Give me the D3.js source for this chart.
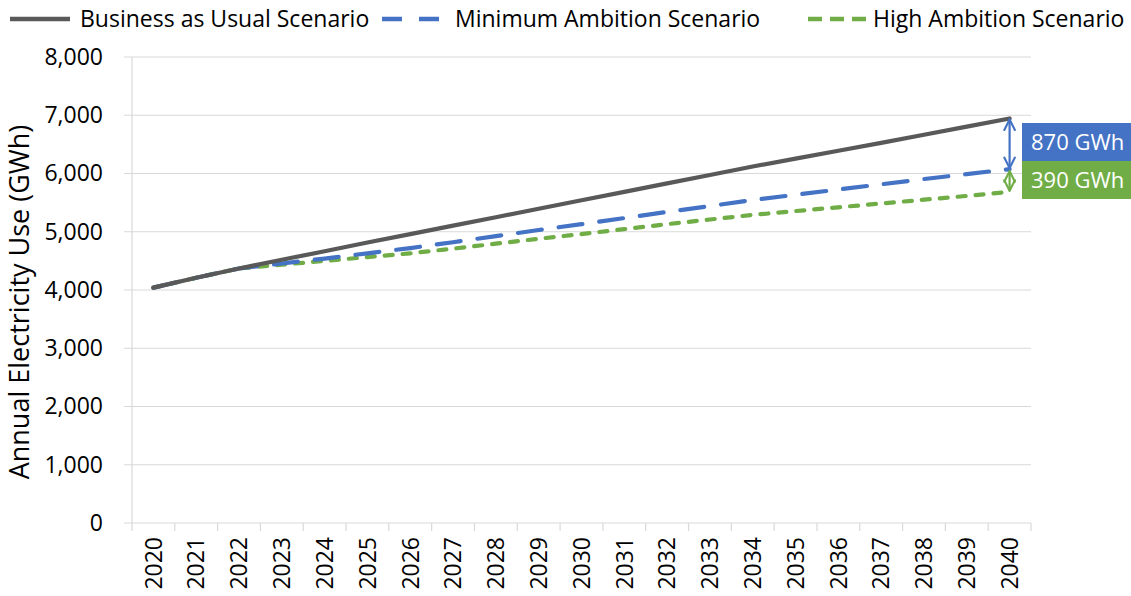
<!DOCTYPE html>
<html>
<head>
<meta charset="utf-8">
<script src="https://cdn.jsdelivr.net/npm/d3@7"></script>
<style>
  html, body { margin: 0; padding: 0; background: #fff; }
  svg { display: block; font-family: "Open Sans", "Noto Sans", sans-serif; }
</style>
</head>
<body>
<svg id="chart" width="1131" height="596"></svg>
<script>
const years = d3.range(2020, 2041).map(String);
const bauValues = [4040, 4210, 4370, 4520, 4665, 4815, 4960, 5105, 5250, 5395, 5540, 5685, 5830, 5975, 6120, 6255, 6390, 6525, 6665, 6805, 6945];
const minValues = [4040, 4210, 4370, 4455, 4540, 4630, 4720, 4820, 4925, 5030, 5130, 5235, 5340, 5440, 5545, 5635, 5725, 5815, 5905, 5990, 6075];
const highValues = [4040, 4210, 4370, 4435, 4500, 4565, 4630, 4710, 4795, 4880, 4960, 5045, 5130, 5210, 5290, 5355, 5420, 5485, 5550, 5615, 5685];
const yTicks = [0, 1000, 2000, 3000, 4000, 5000, 6000, 7000, 8000];
const seriesNames = ["Business as Usual Scenario", "Minimum Ambition Scenario", "High Ambition Scenario"];
const yTitle = "Annual Electricity Use (GWh)";

const svg = d3.select("#chart");
const L = 132, R = 1031, T = 57, B = 523;
const x = d3.scaleBand().domain(years).range([L, R]);
const y = d3.scaleLinear().domain([0, 8000]).range([B, T]);
const cx = d => x(d) + x.bandwidth() / 2;
const grid = "#D9D9D9";
const FS = 23;

// gridlines
svg.append("g").selectAll("line").data(yTicks).join("line")
  .attr("x1", L - 8).attr("x2", R)
  .attr("y1", d => y(d)).attr("y2", d => y(d))
  .attr("stroke", grid).attr("stroke-width", 1.2);

// y axis line
svg.append("line").attr("x1", L).attr("x2", L).attr("y1", T).attr("y2", B)
  .attr("stroke", grid).attr("stroke-width", 1.2);

// y axis labels
const yAxis = d3.axisLeft(y).tickValues(yTicks).tickSize(0).tickPadding(0).tickFormat(d3.format(","));
const yg = svg.append("g").attr("transform", `translate(${L - 29},0)`).call(yAxis);
yg.select(".domain").remove();
yg.selectAll("text").attr("font-size", FS).attr("fill", "#000").attr("font-family", "'Open Sans', sans-serif");

// x axis ticks at band boundaries
const bounds = years.map(d => x(d)).concat([R]);
svg.append("g").selectAll("line").data(bounds).join("line")
  .attr("x1", d => d).attr("x2", d => d).attr("y1", B).attr("y2", B + 8)
  .attr("stroke", grid).attr("stroke-width", 1.2);

// x labels
svg.append("g").selectAll("text").data(years).join("text")
  .attr("transform", d => `translate(${cx(d)},${B + 14}) rotate(-90)`)
  .attr("text-anchor", "end").attr("dy", "0.36em")
  .attr("font-size", FS).attr("fill", "#000")
  .text(d => d);

// y title
svg.append("text")
  .attr("transform", `translate(19,302) rotate(-90)`)
  .attr("text-anchor", "middle").attr("dy", "0.36em")
  .attr("font-size", 27).attr("fill", "#000")
  .text(yTitle);

// lines
const line = d3.line().x((d, i) => cx(years[i])).y(d => y(d));
const styles = [
  { vals: bauValues, color: "#595959", dash: null },
  { vals: minValues, color: "#4472C4", dash: "24 17" },
  { vals: highValues, color: "#70AD47", dash: "8 10" }
];
[...styles].reverse().forEach(s => {
  svg.append("path").datum(s.vals).attr("d", line)
    .attr("fill", "none").attr("stroke", s.color).attr("stroke-width", 4.2)
    .attr("stroke-linecap", "round").attr("stroke-linejoin", "round")
    .attr("stroke-dasharray", s.dash);
});

// legend
const legendItems = [
  { name: seriesNames[0], color: "#595959", dash: null, x1: 10, x2: 70, tx: 80 },
  { name: seriesNames[1], color: "#4472C4", dash: "20 17", x1: 382, x2: 440, tx: 455 },
  { name: seriesNames[2], color: "#70AD47", dash: "14 8", x1: 808, x2: 866, tx: 873 }
];
legendItems.forEach(it => {
  svg.append("line").attr("x1", it.x1).attr("x2", it.x2).attr("y1", 19).attr("y2", 19)
    .attr("stroke", it.color).attr("stroke-width", 4.5).attr("stroke-dasharray", it.dash);
  svg.append("text").attr("x", it.tx).attr("y", 19).attr("dy", "0.36em")
    .attr("font-size", FS).attr("fill", "#000").text(it.name);
});

// annotations
const defs = svg.append("defs");
function marker(id, color) {
  defs.append("marker").attr("id", id).attr("viewBox", "0 0 10 10")
    .attr("refX", 9).attr("refY", 5).attr("markerWidth", 6).attr("markerHeight", 6)
    .attr("orient", "auto-start-reverse").attr("markerUnits", "strokeWidth")
    .append("path").attr("d", "M1,1 L9,5 L1,9").attr("fill", "none")
    .attr("stroke", color).attr("stroke-width", 1.6).attr("stroke-linecap", "round");
}
marker("arrB", "#4472C4");
marker("arrG", "#70AD47");
const last = years.length - 1;
const ax = cx(years[last]);
svg.append("line").attr("x1", ax).attr("x2", ax)
  .attr("y1", y(bauValues[last]) + 1).attr("y2", y(minValues[last]) - 1)
  .attr("stroke", "#4472C4").attr("stroke-width", 2.2)
  .attr("marker-start", "url(#arrB)").attr("marker-end", "url(#arrB)");
svg.append("line").attr("x1", ax).attr("x2", ax)
  .attr("y1", y(minValues[last]) + 2).attr("y2", y(highValues[last]) - 1)
  .attr("stroke", "#70AD47").attr("stroke-width", 2.2)
  .attr("marker-start", "url(#arrG)").attr("marker-end", "url(#arrG)");

const gap1 = bauValues[last] - minValues[last];
const gap2 = minValues[last] - highValues[last];
const boxes = [
  { y0: 123, y1: 161, color: "#4472C4", text: `${Math.round(gap1 / 10) * 10} GWh` },
  { y0: 161, y1: 199, color: "#70AD47", text: `${Math.round(gap2 / 10) * 10} GWh` }
];
boxes.forEach(b => {
  svg.append("rect").attr("x", 1022).attr("y", b.y0).attr("width", 115).attr("height", b.y1 - b.y0)
    .attr("fill", b.color);
  svg.append("text").attr("x", 1031).attr("y", (b.y0 + b.y1) / 2).attr("dy", "0.36em")
    .attr("font-size", 22).attr("fill", "#fff").text(b.text);
});
</script>
</body>
</html>
